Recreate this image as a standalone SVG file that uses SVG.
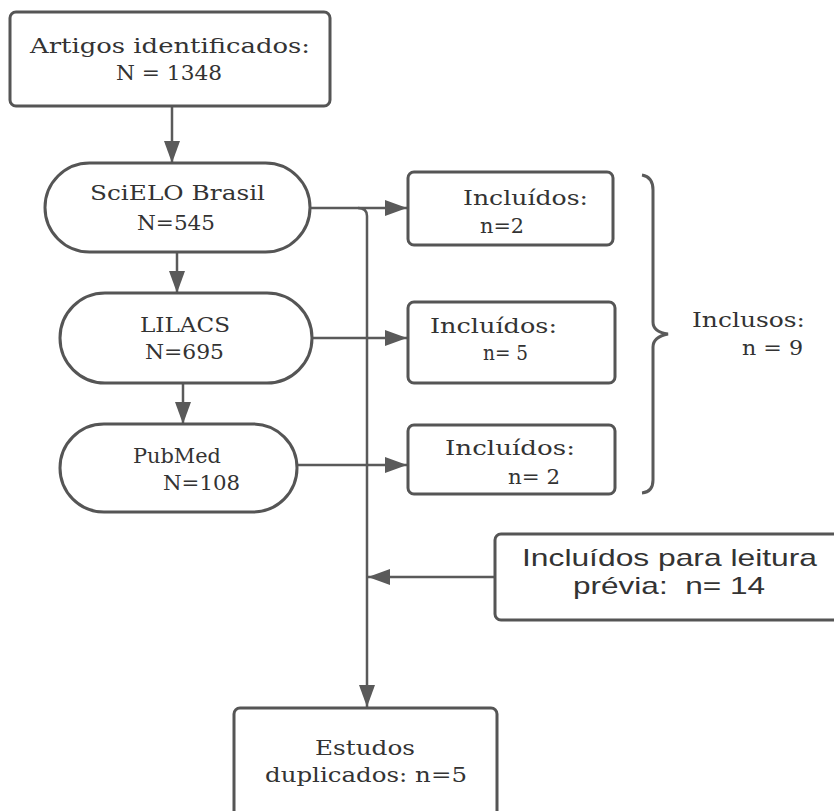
<svg xmlns="http://www.w3.org/2000/svg" width="834" height="811" viewBox="0 0 834 811">
<style>
.box{fill:#fff;stroke:#555;stroke-width:3}
.ln{fill:none;stroke:#5a5a5a;stroke-width:2.5}
.t{font-family:"DejaVu Serif","Liberation Serif",serif;font-size:21px;fill:#333}
.s{font-family:"Liberation Sans",Arial,sans-serif;font-size:24px;fill:#333;white-space:pre}
</style>
<defs>
<marker id="ah" markerUnits="userSpaceOnUse" markerWidth="24" markerHeight="18" refX="22" refY="8" orient="auto">
<path d="M0,0 L22,8 L0,16 Z" fill="#5a5a5a"/>
</marker>
</defs>
<rect width="834" height="811" fill="#fff"/>
<g id="connectors">
<line class="ln" x1="172" y1="106" x2="172" y2="163" marker-end="url(#ah)"/>
<line class="ln" x1="177" y1="252" x2="177" y2="293" marker-end="url(#ah)"/>
<line class="ln" x1="183" y1="383" x2="183" y2="424" marker-end="url(#ah)"/>
<line class="ln" x1="310" y1="208" x2="407" y2="208" marker-end="url(#ah)"/>
<line class="ln" x1="312" y1="338" x2="407" y2="338" marker-end="url(#ah)"/>
<line class="ln" x1="297" y1="465" x2="407" y2="465" marker-end="url(#ah)"/>
<path class="ln" d="M358,208 Q367,208 367,216 V707" marker-end="url(#ah)"/>
<line class="ln" x1="495" y1="577" x2="368" y2="577" marker-end="url(#ah)"/>
<path d="M642,175 Q653,177 653,190 V322 Q653,332 668,334 Q653,337 653,347 V480 Q653,492 642,493" fill="none" stroke="#5a5a5a" stroke-width="3"/>
</g>
<g id="artigos">
<rect class="box" x="10" y="12" width="320" height="94" rx="6"/>
<text class="t" x="30" y="53" textLength="280" lengthAdjust="spacingAndGlyphs">Artigos identificados:</text>
<text class="t" x="116" y="80" textLength="106" lengthAdjust="spacingAndGlyphs">N = 1348</text>
</g>
<g id="scielo">
<rect class="box" x="45" y="163" width="265" height="89" rx="44.5"/>
<text class="t" x="90" y="200" textLength="175" lengthAdjust="spacingAndGlyphs">SciELO Brasil</text>
<text class="t" x="137" y="230" textLength="78" lengthAdjust="spacingAndGlyphs">N=545</text>
</g>
<g id="lilacs">
<rect class="box" x="60" y="293" width="252" height="90" rx="45"/>
<text class="t" x="140" y="332" textLength="90" lengthAdjust="spacingAndGlyphs">LILACS</text>
<text class="t" x="145" y="359" textLength="79" lengthAdjust="spacingAndGlyphs">N=695</text>
</g>
<g id="pubmed">
<rect class="box" x="60" y="424" width="237" height="88" rx="44"/>
<text class="t" x="133" y="463" textLength="88" lengthAdjust="spacingAndGlyphs">PubMed</text>
<text class="t" x="163" y="490" textLength="77" lengthAdjust="spacingAndGlyphs">N=108</text>
</g>
<g id="incl1">
<rect class="box" x="408" y="172" width="205" height="73" rx="6"/>
<text class="t" x="463" y="205" textLength="125" lengthAdjust="spacingAndGlyphs">Incluídos:</text>
<text class="t" x="480" y="233" textLength="44" lengthAdjust="spacingAndGlyphs">n=2</text>
</g>
<g id="incl2">
<rect class="box" x="408" y="302" width="207" height="81" rx="6"/>
<text class="t" x="430" y="333" textLength="127" lengthAdjust="spacingAndGlyphs">Incluídos:</text>
<text class="t" x="483" y="360" textLength="45" lengthAdjust="spacingAndGlyphs">n= 5</text>
</g>
<g id="incl3">
<rect class="box" x="408" y="425" width="207" height="69" rx="6"/>
<text class="t" x="445" y="455" textLength="130" lengthAdjust="spacingAndGlyphs">Incluídos:</text>
<text class="t" x="508" y="484" textLength="52" lengthAdjust="spacingAndGlyphs">n= 2</text>
</g>
<g id="inclusos">
<text class="t" x="692" y="327" textLength="113" lengthAdjust="spacingAndGlyphs">Inclusos:</text>
<text class="t" x="742" y="355" textLength="61" lengthAdjust="spacingAndGlyphs">n = 9</text>
</g>
<g id="leitura">
<rect class="box" x="495" y="534" width="345" height="86" rx="6"/>
<text class="s" x="522" y="566" textLength="295" lengthAdjust="spacingAndGlyphs">Incluídos para leitura</text>
<text class="s" x="573" y="594" textLength="192" lengthAdjust="spacingAndGlyphs" xml:space="preserve">prévia:  n= 14</text>
</g>
<g id="estudos">
<rect class="box" x="234" y="708" width="263" height="120" rx="6"/>
<text class="t" x="315" y="755" textLength="100" lengthAdjust="spacingAndGlyphs">Estudos</text>
<text class="t" x="265" y="782" textLength="202" lengthAdjust="spacingAndGlyphs">duplicados: n=5</text>
</g>
</svg>
